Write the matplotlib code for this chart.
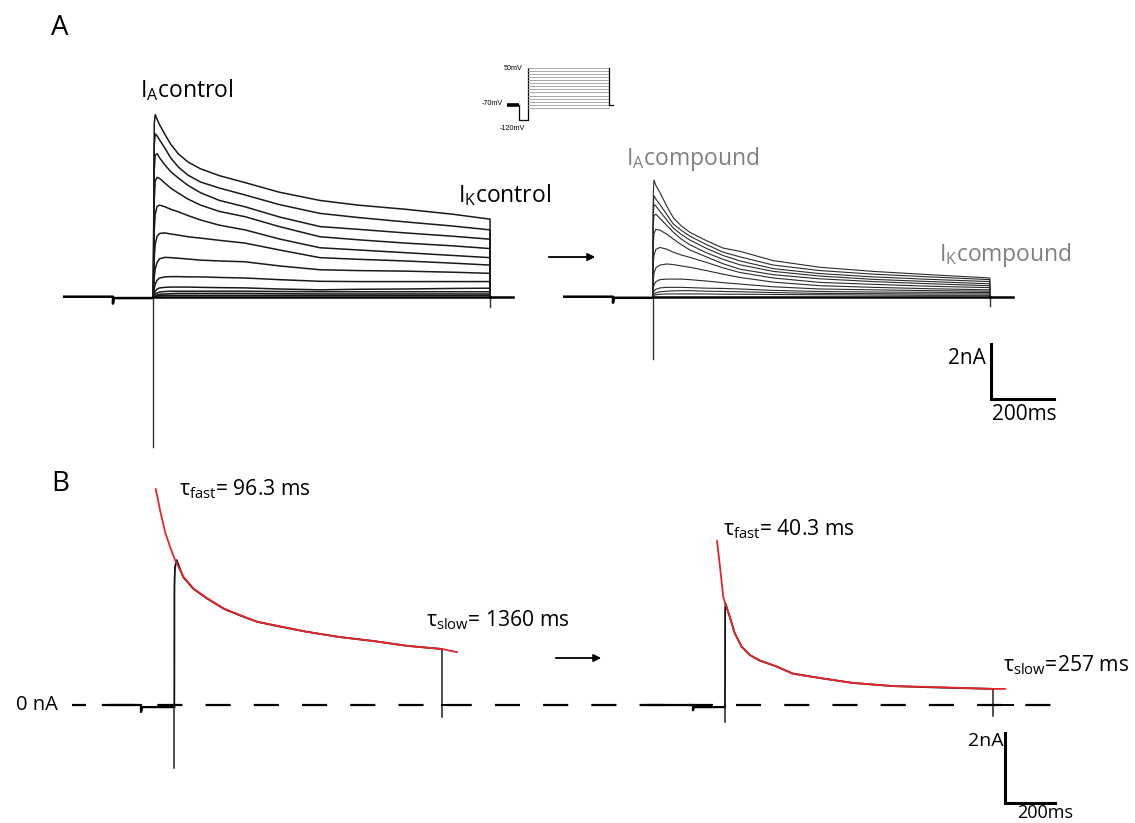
import matplotlib
matplotlib.use("Agg")
import matplotlib.pyplot as plt
import numpy as np

# ---------------- data (ms, nA, mV) ----------------
# Panel A - control family (time after step onset, ms)
ctrl_t = [0, 3, 6, 12, 20, 37, 55, 79, 110, 150, 210, 291, 400, 529, 650, 800, 950, 1069]
ctrl_sweeps = [
    [0, 6.30, 6.62, 6.45, 6.25, 5.90, 5.55, 5.20, 4.90, 4.65, 4.40, 4.15, 3.80, 3.50, 3.33, 3.18, 3.00, 2.82],
    [0, 5.50, 5.92, 5.85, 5.70, 5.40, 5.05, 4.72, 4.42, 4.17, 3.95, 3.70, 3.35, 3.03, 2.88, 2.72, 2.57, 2.43],
    [0, 4.60, 5.15, 5.20, 5.05, 4.79, 4.55, 4.32, 4.05, 3.78, 3.50, 3.27, 2.90, 2.55, 2.45, 2.32, 2.20, 2.09],
    [0, 3.50, 4.20, 4.34, 4.30, 4.13, 3.95, 3.77, 3.55, 3.33, 3.10, 2.91, 2.55, 2.18, 2.07, 1.95, 1.85, 1.75],
    [0, 2.40, 3.00, 3.28, 3.33, 3.27, 3.18, 3.09, 2.95, 2.79, 2.60, 2.43, 2.10, 1.78, 1.70, 1.60, 1.50, 1.42],
    [0, 1.40, 1.90, 2.20, 2.30, 2.32, 2.28, 2.24, 2.18, 2.13, 2.05, 1.95, 1.70, 1.42, 1.36, 1.30, 1.22, 1.15],
    [0, 0.70, 1.00, 1.25, 1.38, 1.43, 1.42, 1.40, 1.37, 1.33, 1.30, 1.27, 1.12, 0.98, 0.95, 0.93, 0.89, 0.85],
    [0, 0.30, 0.45, 0.60, 0.68, 0.72, 0.73, 0.73, 0.72, 0.72, 0.70, 0.68, 0.62, 0.56, 0.55, 0.55, 0.55, 0.55],
    [0, 0.12, 0.20, 0.28, 0.32, 0.34, 0.35, 0.35, 0.35, 0.34, 0.33, 0.32, 0.28, 0.25, 0.27, 0.28, 0.30, 0.31],
    [0, 0.06, 0.10, 0.14, 0.17, 0.19, 0.20, 0.20, 0.20, 0.20, 0.20, 0.20, 0.19, 0.18, 0.18, 0.18, 0.18, 0.18],
    [0, 0.03, 0.05, 0.07, 0.09, 0.10, 0.11, 0.12, 0.12, 0.12, 0.12, 0.12, 0.11, 0.10, 0.10, 0.10, 0.10, 0.10],
    [0, 0.01, 0.02, 0.03, 0.04, 0.05, 0.05, 0.05, 0.05, 0.05, 0.05, 0.05, 0.05, 0.05, 0.05, 0.05, 0.05, 0.05],
]
ctrl_pre_t = [-287, -128, -128, -126, 0]
ctrl_pre_I = [0, 0, -0.25, -0.05, -0.05]
ctrl_spike_min = -5.45
ctrl_tail_min = -0.36
ctrl_post_end = 1142

# Panel A - compound family
cmp_t = [0, 2, 4, 10, 23, 44, 65, 90, 118, 170, 223, 277, 383, 531, 700, 880, 1070]
cmp_sweeps = [
    [0, 3.80, 4.24, 4.05, 3.79, 3.31, 2.88, 2.58, 2.34, 2.04, 1.77, 1.65, 1.31, 1.07, 0.92, 0.80, 0.68],
    [0, 3.30, 3.67, 3.55, 3.35, 3.00, 2.65, 2.42, 2.20, 1.90, 1.62, 1.45, 1.15, 0.95, 0.82, 0.72, 0.62],
    [0, 3.00, 3.35, 3.30, 3.10, 2.80, 2.50, 2.27, 2.06, 1.76, 1.50, 1.30, 1.02, 0.84, 0.72, 0.63, 0.55],
    [0, 2.60, 2.95, 3.00, 2.85, 2.60, 2.35, 2.10, 1.89, 1.60, 1.36, 1.16, 0.92, 0.75, 0.63, 0.55, 0.47],
    [0, 1.90, 2.30, 2.45, 2.42, 2.28, 2.10, 1.90, 1.70, 1.45, 1.20, 1.00, 0.80, 0.65, 0.55, 0.47, 0.40],
    [0, 1.20, 1.50, 1.72, 1.79, 1.73, 1.62, 1.52, 1.43, 1.25, 1.05, 0.88, 0.68, 0.52, 0.45, 0.38, 0.33],
    [0, 0.60, 0.85, 1.05, 1.15, 1.19, 1.17, 1.12, 1.07, 0.95, 0.82, 0.70, 0.53, 0.40, 0.34, 0.29, 0.25],
    [0, 0.30, 0.42, 0.55, 0.62, 0.64, 0.64, 0.64, 0.62, 0.57, 0.51, 0.46, 0.36, 0.28, 0.25, 0.22, 0.20],
    [0, 0.12, 0.20, 0.27, 0.32, 0.34, 0.34, 0.34, 0.33, 0.31, 0.30, 0.28, 0.23, 0.19, 0.17, 0.16, 0.15],
    [0, 0.06, 0.10, 0.14, 0.18, 0.20, 0.21, 0.22, 0.22, 0.20, 0.19, 0.18, 0.15, 0.12, 0.11, 0.10, 0.10],
    [0, 0.03, 0.05, 0.07, 0.09, 0.10, 0.10, 0.10, 0.10, 0.10, 0.09, 0.09, 0.08, 0.07, 0.06, 0.05, 0.05],
]
cmp_pre_t = [-285, -126, -126, -124, 0]
cmp_pre_I = [0, 0, -0.22, -0.04, -0.04]
cmp_spike_min = -2.25
cmp_tail_min = -0.33
cmp_post_end = 1144

# Voltage protocol (inset)
hold_V = -70
pre_V = -120
step_levels = [-80, -70, -60, -50, -40, -30, -20, -10, 0, 10, 20, 30, 40, 50]
proto_hold_start = -277
proto_pre_start = -119
proto_step_end = 1069
proto_post_end = 1121

# Panel B - control single sweep + biexponential fit
bc_fit_t = [-74, -57, -37, -17, 3, 36, 76, 129, 200, 262, 330, 394, 530, 662, 793, 930, 1069, 1129]
bc_fit_I = [6.17, 5.57, 4.95, 4.52, 4.14, 3.67, 3.33, 3.06, 2.75, 2.57, 2.38, 2.29, 2.09, 1.94, 1.83, 1.69, 1.60, 1.51]
bc_t = [0, 0.5, 3, 9.5, 36, 76, 129, 200, 262, 330, 394, 530, 662, 793, 930, 1069]
bc_I = [0, 3.40, 3.95, 4.14, 3.65, 3.32, 3.05, 2.74, 2.56, 2.38, 2.28, 2.09, 1.94, 1.83, 1.69, 1.60]
bc_pre_t = [-285, -133, -133, -128, 0]
bc_pre_I = [0, 0, -0.20, -0.06, -0.06]
bc_spike_min = -1.80
bc_tail_min = -0.34
bc_post_end = 1101

# Panel B - compound single sweep + fit
bk_fit_t = [-32, -20, -7, 1, 19, 39, 66, 99, 139, 206, 271, 379, 511, 671, 847, 1070, 1118]
bk_fit_I = [4.69, 3.95, 3.09, 2.90, 2.52, 2.05, 1.67, 1.43, 1.27, 1.10, 0.89, 0.77, 0.63, 0.54, 0.51, 0.46, 0.46]
bk_t = [0, 0.5, 2, 19, 39, 66, 99, 139, 206, 271, 379, 511, 671, 847, 1070]
bk_I = [0, 2.70, 2.90, 2.52, 2.05, 1.67, 1.43, 1.27, 1.10, 0.90, 0.77, 0.63, 0.54, 0.50, 0.46]
bk_pre_t = [-307, -128, -128, -124, 0]
bk_pre_I = [0, 0, -0.15, -0.06, -0.06]
bk_spike_min = -0.49
bk_tail_min = -0.31
bk_post_end = 1150

tau_labels = ["96.3 ms", "1360 ms", "40.3 ms", "257 ms"]
scale_I = 2      # nA
scale_T = 200    # ms

# ---------------- layout ----------------
W, H = 1135, 823
plt.rcParams['font.family'] = ['Open Sans', 'DejaVu Sans']
plt.rcParams['mathtext.fontset'] = 'custom'
plt.rcParams['mathtext.rm'] = 'Open Sans'
plt.rcParams['mathtext.it'] = 'Open Sans:italic'
plt.rcParams['mathtext.bf'] = 'Open Sans:bold'

fig = plt.figure(figsize=(W / 100, H / 100), dpi=100)


def mapped_axes(box, origin, scale):
    l, t, r, b = box
    x0, y0 = origin
    sx, sy = scale
    ax = fig.add_axes([l / W, 1 - b / H, (r - l) / W, (b - t) / H])
    ax.set_xlim((l - x0) / sx, (r - x0) / sx)
    ax.set_ylim((y0 - b) / sy, (y0 - t) / sy)
    ax.axis('off')
    ax.patch.set_alpha(0)
    return ax


def ftext(x, y, s, **kw):
    return fig.text(x / W, 1 - y / H, s, **kw)


def farrow(x1, x2, y):
    fig.add_artist(matplotlib.patches.FancyArrowPatch(
        (x1 / W, 1 - y / H), (x2 / W, 1 - y / H), transform=fig.transFigure,
        arrowstyle='-|>', mutation_scale=11, lw=1.3, color='black'))


def draw_family(ax, off, t, sweeps, pre_t, pre_I, spike_min, tail_min, post_end, color, lw):
    t = np.asarray(t, float) + off
    end = t[-1]
    ax.plot(np.asarray(pre_t) + off, pre_I, color='black', lw=1.8, solid_capstyle='butt')
    ax.plot([off, off], [spike_min, 0], color='#333333', lw=1.0)
    for s in sweeps:
        ax.plot(np.r_[off, t, end], np.r_[0, s, 0], color=color, lw=lw)
    ax.plot([off, end], [0, 0], color='black', lw=1.8)
    ax.plot([end, end], [tail_min, 0], color='#333333', lw=1.0)
    ax.plot([end, post_end + off], [0, 0], color='black', lw=1.8)


# Panel A axes (origin at control step onset)
A_CMP_OFF = (652.7 - 153.3) / 0.315
axA = mapped_axes((0, 0, W, 460), (153.3, 296.7), (0.315, 27.5))
draw_family(axA, 0, ctrl_t, ctrl_sweeps, ctrl_pre_t, ctrl_pre_I, ctrl_spike_min,
            ctrl_tail_min, ctrl_post_end, '#1a1a1a', 1.1)
draw_family(axA, A_CMP_OFF, cmp_t, cmp_sweeps, cmp_pre_t, cmp_pre_I, cmp_spike_min,
            cmp_tail_min, cmp_post_end, '#2b2b2b', 0.8)
# scale bar A
sbA_t, sbA_I = (991 - 153.3) / 0.315, (296.7 - 399) / 27.5
axA.plot([sbA_t, sbA_t, sbA_t + scale_T], [sbA_I + scale_I, sbA_I, sbA_I], color='black',
         lw=2.2, solid_joinstyle='miter', clip_on=False)

# Panel B axes
B_CMP_OFF = (725 - 174.3) / 0.2504
axB = mapped_axes((0, 460, W, H), (174.3, 705), (0.2504, 35))
zero_span = [(72 - 174.3) / 0.2504, (1052 - 174.3) / 0.2504]
axB.plot(zero_span, [0, 0], color='black', lw=1.6, linestyle=(5.0, (11.3, 10.4)))
for off, t, I, ft, fI, pt, pI, smin, tmin, pend in [
        (0, bc_t, bc_I, bc_fit_t, bc_fit_I, bc_pre_t, bc_pre_I, bc_spike_min, bc_tail_min, bc_post_end),
        (B_CMP_OFF, bk_t, bk_I, bk_fit_t, bk_fit_I, bk_pre_t, bk_pre_I, bk_spike_min, bk_tail_min, bk_post_end)]:
    t = np.asarray(t, float) + off
    ax = axB
    ax.plot(np.asarray(pt) + off, pI, color='black', lw=1.6)
    ax.plot([off, off], [smin, 0], color='#222222', lw=1.1)
    ax.plot(t, I, color='#111111', lw=1.3)
    ax.plot([t[-1], t[-1]], [tmin, I[-1]], color='#222222', lw=1.1)
    ax.plot([t[-1], pend + off], [0, 0], color='black', lw=1.4)
    ax.plot(np.asarray(ft) + off, fI, color='#e8262a', lw=1.3)
sbB_t, sbB_I = (1005 - 174.3) / 0.2504, (705 - 803) / 35
axB.plot([sbB_t, sbB_t, sbB_t + scale_T], [sbB_I + scale_I, sbB_I, sbB_I], color='black',
         lw=2.2, solid_joinstyle='miter', clip_on=False)

# Inset: voltage protocol
axP = mapped_axes((490, 55, 630, 135), (528, 83.3), (0.0758, 0.306))
axP.plot([proto_hold_start, proto_pre_start], [hold_V, hold_V], color='black', lw=2.6,
         solid_capstyle='butt')
axP.plot([proto_pre_start, proto_pre_start, 0, 0], [hold_V, pre_V, pre_V, max(step_levels)],
         color='black', lw=0.9)
for v in step_levels:
    axP.plot([0, proto_step_end], [v, v], color='#9a9a9a', lw=0.6)
axP.plot([proto_step_end, proto_step_end], [max(step_levels), hold_V], color='black', lw=0.9)
axP.plot([proto_step_end, proto_post_end], [hold_V, hold_V], color='black', lw=0.9)
ftext(523, 69, "50mV", fontsize=5.2, ha='right', va='center', family='Liberation Sans')
ftext(503, 103.5, "-70mV", fontsize=5.2, ha='right', va='center', family='Liberation Sans')
ftext(512, 128, "-120mV", fontsize=5.2, ha='center', va='center', family='Liberation Sans')

# ---------------- text ----------------
ftext(60, 28, "A", fontsize=20, ha='center', va='center')
ftext(60, 484, "B", fontsize=20, ha='center', va='center')

lab = dict(fontsize=16.5, ha='left', va='baseline')
ftext(140, 97, r"I$_{\mathrm{A}}$control", color='black', **lab)
ftext(458, 202, r"I$_{\mathrm{K}}$control", color='black', **lab)
ftext(626, 165, r"I$_{\mathrm{A}}$compound", color='#808080', **lab)
ftext(939, 261, r"I$_{\mathrm{K}}$compound", color='#808080', **lab)

tl = dict(fontsize=15.2, ha='left', va='baseline', color='black')
ftext(179, 495, r"τ$_{\mathrm{fast}}$= " + tau_labels[0], **tl)
ftext(426, 626, r"τ$_{\mathrm{slow}}$= " + tau_labels[1], **tl)
ftext(723, 535, r"τ$_{\mathrm{fast}}$= " + tau_labels[2], **tl)
ftext(1003, 671, r"τ$_{\mathrm{slow}}$=" + tau_labels[3], **tl)

ftext(58, 705, "0 nA", fontsize=14.5, ha='right', va='center')

ftext(986, 358, f"{scale_I}nA", fontsize=15, ha='right', va='center')
ftext(1024, 414, f"{scale_T}ms", fontsize=15, ha='center', va='center')
ftext(1004, 741, f"{scale_I}nA", fontsize=14, ha='right', va='center')
ftext(1045, 822, f"{scale_T}ms", fontsize=13, ha='center', va='bottom')

farrow(546, 598, 257)
farrow(553, 604, 658)

fig.savefig("out.png", dpi=100)
